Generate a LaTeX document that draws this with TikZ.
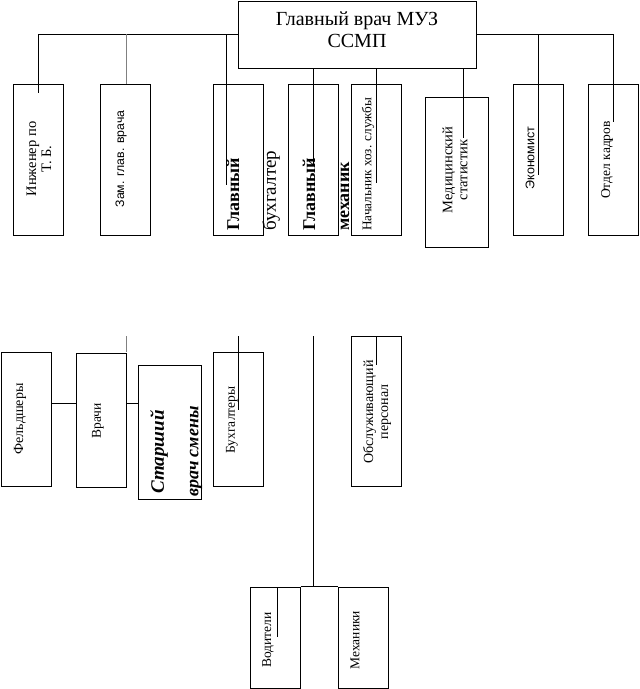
\documentclass[tikz,border=0pt]{standalone}
\usepackage{fontspec}
\setmainfont{Liberation Serif}
\setsansfont{Liberation Sans}
\begin{document}
\begin{tikzpicture}[x=1pt,y=-1pt,
  box/.style={draw, line width=1pt, inner sep=0pt, fill=none},
  link/.style={draw, line width=1pt},
  glink/.style={draw, line width=1pt, gray},
  rot/.style={rotate=90, inner sep=0pt, align=center},
  sm/.style={font=\fontsize{13.5}{15}\selectfont},
  ss/.style={font=\sffamily\fontsize{12}{14}\selectfont},
  big/.style={font=\fontsize{19}{21}\selectfont}
]
\useasboundingbox (0,0) rectangle (640,689);
\fill[white] (0,0) rectangle (640,689);

% top box
\node[box, minimum width=238pt, minimum height=67pt] (top) at (357,34.5) {};
\node[font=\fontsize{20}{22}\selectfont, align=center, inner sep=0pt] (topT) at (357,30) {Главный врач МУЗ\\ССМП};

% row 1 boxes
\node[box, minimum width=50pt, minimum height=151pt] (inz) at (38,159.5) {};
\node[box, minimum width=50pt, minimum height=151pt] (zam) at (125,159.5) {};
\node[box, minimum width=50pt, minimum height=151pt] (buh) at (238,159.5) {};
\node[box, minimum width=50pt, minimum height=151pt] (mech) at (313,159.5) {};
\node[box, minimum width=50pt, minimum height=151pt] (hoz) at (376,159.5) {};
\node[box, minimum width=63pt, minimum height=150pt] (stat) at (456.5,172) {};
\node[box, minimum width=50pt, minimum height=151pt] (eco) at (538,159.5) {};
\node[box, minimum width=50pt, minimum height=151pt] (kadr) at (613,159.5) {};

% row 1 texts
\node[rot, font=\fontsize{14.5}{15}\selectfont] (inzT) at (39,159) {Инженер по\\Т. Б.};
\node[rot, font=\sffamily\fontsize{12.3}{13}\selectfont] (zamT) at (121,159) {Зам. глав. врача};
\node[rot, anchor=west, font=\bfseries\fontsize{18}{20}\selectfont] (buhT1) at (233,231) {Главный};
\node[rot, big, anchor=west] (buhT2) at (271,231) {бухгалтер};
\node[rot, anchor=west, font=\bfseries\fontsize{18}{20}\selectfont] (mechT1) at (309,231) {Главный};
\node[rot, anchor=west, font=\bfseries\fontsize{18}{20}\selectfont] (mechT2) at (345,231) {механик};
\node[rot, anchor=west, font=\fontsize{13.2}{14}\selectfont] (hozT) at (368,231) {Начальник хоз. службы};
\node[rot, font=\fontsize{14.5}{15}\selectfont] (statT) at (455,170) {Медицинский\\статистик};
\node[rot, font=\sffamily\fontsize{12.5}{14}\selectfont] (ecoT) at (530,158) {Экономист};
\node[rot, font=\fontsize{13.5}{15}\selectfont] (kadrT) at (607,160) {Отдел кадров};

% row 2 boxes
\node[box, minimum width=50pt, minimum height=134pt] (feld) at (26.5,419) {};
\node[box, minimum width=50pt, minimum height=134pt] (vrach) at (101,420) {};
\node[box, minimum width=63pt, minimum height=134pt] (star) at (169.5,432) {};
\node[box, minimum width=50pt, minimum height=134pt] (buhs) at (238,419) {};
\node[box, minimum width=50pt, minimum height=150pt] (obsl) at (376,411) {};

% row 2 texts
\node[rot, font=\fontsize{14}{15}\selectfont] (feldT) at (20,419) {Фельдшеры};
\node[rot, sm] (vrachT) at (98,421) {Врачи};
\node[rot, anchor=west, font=\bfseries\itshape\fontsize{19}{21}\selectfont] (starT1) at (159,494) {Старший};
\node[rot, anchor=west, font=\bfseries\itshape\fontsize{18}{20}\selectfont] (starT2) at (196,497) {врач смены};
\node[rot, sm] (buhsT) at (232,420) {Бухгалтеры};
\node[rot, font=\fontsize{14}{15}\selectfont] (obslT) at (377,412) {Обслуживающий\\персонал};

% row 3 boxes
\node[box, minimum width=50pt, minimum height=101pt] (vod) at (275,637.5) {};
\node[box, minimum width=50pt, minimum height=101pt] (meh) at (363,637.5) {};
\node[rot, sm] (vodT) at (268,640) {Водители};
\node[rot, sm] (mehT) at (355,640) {Механики};

% connectors
\coordinate (L) at (38,34);
\coordinate (R) at (613,34);
\draw[link] (top.west |- L) -- (L);
\draw[link] (top.east |- R) -- (R);
\draw[link] (L) -- (38,93);
\draw[glink] (126,34) -- (126,84);
\draw[link] (226,34) -- (226,185);
\draw[link] (313,68) -- (313,165);
\draw[link] (376,68) -- (376,183);
\draw[link] (463,68) -- (463,138);
\draw[link] (538,34) -- (538,175);
\draw[link] (R) -- (613,122);

\draw[glink] (126,336) -- (126,352);
\draw[link] (238,336) -- (238,410);
\draw[link] (313,336) -- (313,587);
\draw[link] (376,336) -- (376,365);
\draw[link] (feld.east |- 0,403) -- (vrach.west |- 0,403);
\draw[link] (vrach.east |- 0,403) -- (star.west |- 0,403);
\draw[link] (vod.north east) -- (meh.north west);
\draw[link] (277,587) -- (277,637);
\end{tikzpicture}
\end{document}
